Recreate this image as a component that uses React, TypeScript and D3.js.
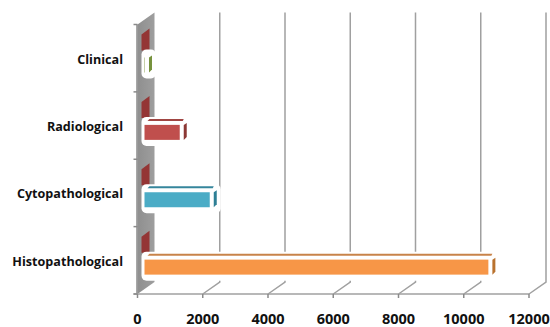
import React from "react";
import * as d3 from "d3";

const categories = ["Clinical", "Radiological", "Cytopathological", "Histopathological"];
const values = [15, 1080, 2000, 10540];
const frontColors = ["#8a9f4e", "#c0504d", "#4bacc6", "#f79646"];
const sideColors = ["#76923c", "#8c3836", "#2f7f95", "#b9722f"];
const topColors = ["#ffffff", "#a04543", "#34869c", "#c8834a"];
const xTicks = [0, 2000, 4000, 6000, 8000, 10000, 12000];

const W = 550, H = 327;
const x = d3.scaleLinear().domain([0, 12000]).range([137.5, 529]);
const y = d3.scaleBand().domain(categories).range([24.5, 294]);
const dx = 17, dy = -12;
const barIn = 7;

export default function App() {
  const step = y.step();
  return (
    <svg width={W} height={H} style={{ position: "fixed", left: 0, top: 0, background: "#fff" }}
      fontFamily="'Open Sans', 'Noto Sans', sans-serif">
      <defs>
        <linearGradient id="wall" x1="0" x2="1" y1="0" y2="0">
          <stop offset="0" stopColor="#8f8f8f" />
          <stop offset="1" stopColor="#9e9e9e" />
        </linearGradient>
        <filter id="soft" x="-20%" y="-20%" width="140%" height="140%">
          <feGaussianBlur stdDeviation="0.35" />
        </filter>
      </defs>
      <g filter="url(#soft)">
        <path d={`M${x(0)},24.5 L${x(0) + dx},${24.5 + dy} L${x(0) + dx},${294 + dy} L${x(0)},294 Z`} fill="url(#wall)" />
        {xTicks.slice(1).map((t) => (
          <path key={t} d={`M${x(t)},294 L${x(t) + dx},${294 + dy} L${x(t) + dx},${24.5 + dy}`}
            fill="none" stroke="#a0a0a0" strokeWidth={1.5} />
        ))}
        <line x1={x(0) - 0.5} x2={x(0) - 0.5} y1={24.5} y2={294} stroke="#8a8a8a" strokeWidth={1.5} />
        <line x1={x(0) - 4} x2={x(12000)} y1={294} y2={294} stroke="#a0a0a0" strokeWidth={1.5} />
        {d3.range(5).map((i) => (
          <line key={i} x1={x(0) - 4} x2={x(0)} y1={24.5 + i * step} y2={24.5 + i * step} stroke="#8a8a8a" strokeWidth={1.5} />
        ))}
        {xTicks.map((t) => (
          <line key={t} x1={x(t)} x2={x(t)} y1={294} y2={298} stroke="#8a8a8a" strokeWidth={1.5} />
        ))}
        {categories.map((c, i) => {
          const top = (y(c) as number) + 33;
          const left = x(0) + barIn;
          const right = x(values[i]) + barIn;
          const h = 15;
          return (
            <g key={c}>
              <path d={`M${left - 3},${top - 7} L${left - 3},${top - 23} L${left + 5},${top - 29} L${left + 5},${top - 7} Z`} fill="#943634" />
              <rect x={left - 3} y={top - 8} width={right - left + 14} height={h + 14} rx={5} fill="#fff" />
              <rect x={left} y={top} width={right - left} height={h} fill={frontColors[i]} />
              <path d={`M${left + 5},${top - 6} L${right + 4},${top - 6} L${right + 3},${top - 4} L${left + 3},${top - 4} Z`} fill={topColors[i]} />
              <path d={`M${right + 4},${top} L${right + 7},${top - 2} L${right + 7},${top + 12} L${right + 4},${top + 15} Z`} fill={sideColors[i]} />
            </g>
          );
        })}
      </g>
      {categories.map((c) => (
        <text key={c} x={123} y={(y(c) as number) + 39} textAnchor="end" fontSize={12.6} fontWeight={700} fill="#111">{c}</text>
      ))}
      {xTicks.map((t) => (
        <text key={t} x={x(t)} y={324} textAnchor="middle" fontSize={14.5} fontWeight={700} fill="#111">{t}</text>
      ))}
    </svg>
  );
}
